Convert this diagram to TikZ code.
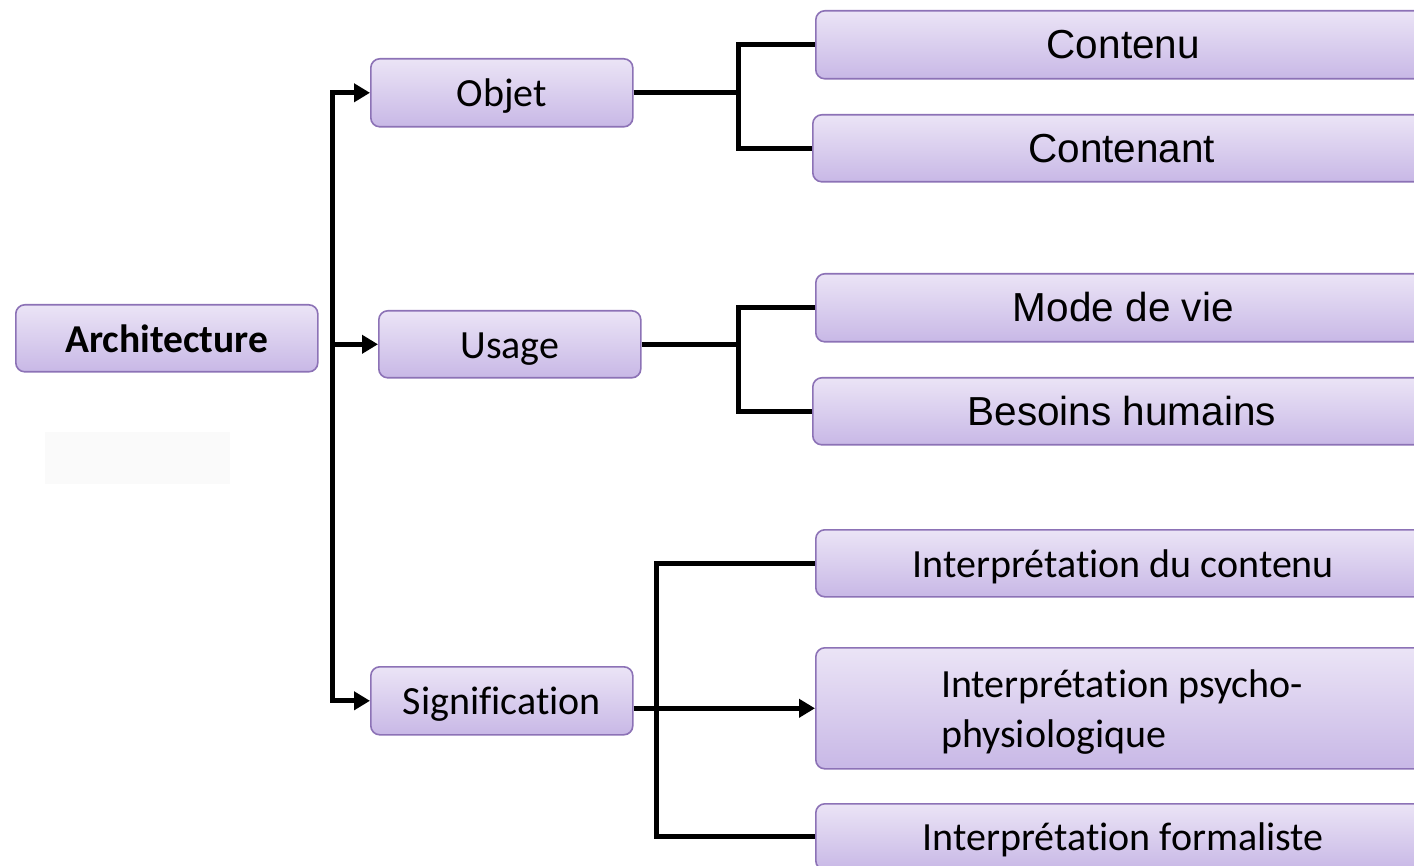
\documentclass[tikz,border=0pt]{standalone}
\usepackage{fontspec}
\setmainfont{Carlito}[Ligatures=NoCommon]
\newfontfamily\arialf{Liberation Sans}
\usetikzlibrary{arrows.meta,calc}
\definecolor{boxtop}{HTML}{EBE4F6}
\definecolor{boxbot}{HTML}{C8B8E6}
\definecolor{boxborder}{HTML}{8C72B6}
\begin{document}
\begin{tikzpicture}[x=1pt,y=-1pt,
  box/.style={draw=boxborder, line width=1.6pt, rounded corners=9pt,
    top color=boxtop, bottom color=boxbot, inner sep=0pt, anchor=north west,
    text height=34pt, text depth=6pt,
    font=\fontsize{40}{48}\selectfont},
  abox/.style={box, font=\arialf\fontsize{40.5}{48}\selectfont},
  conn/.style={line width=5pt},
  arr/.style={conn, -{Triangle[length=16pt,width=18pt]}}]
\useasboundingbox (0,0) rectangle (1414,866);
\clip (0,0) rectangle (1414,866);
\fill[black!2] (45,432) rectangle (230,484);
% left column
\node[box, minimum width=302pt, minimum height=67pt, text height=33pt, text depth=5pt, font=\bfseries\fontsize{39.5}{46}\selectfont] (arch) at (15,304) {Architecture};
\node[box, minimum width=262pt, minimum height=68pt] (objet) at (370,58) {Objet};
\node[box, minimum width=262pt, minimum height=67pt] (usage) at (378,310) {Usage};
\node[box, minimum width=262pt, minimum height=68pt] (sig) at (370,666) {Signification};
% right column
\node[abox, minimum width=615pt, minimum height=68pt] (contenu) at (815,10) {Contenu};
\node[abox, minimum width=618pt, minimum height=67pt] (contenant) at (812,114) {Contenant};
\node[abox, minimum width=615pt, minimum height=68pt] (mode) at (815,273) {Mode de vie};
\node[abox, minimum width=618pt, minimum height=67pt] (besoins) at (812,377) {Besoins humains};
\node[box, minimum width=615pt, minimum height=67pt] (idc) at (815,529) {Interprétation du contenu};
\node[box, minimum width=615pt, minimum height=121pt] (psy) at (815,647) {};
\node[anchor=west, align=left, inner sep=0pt, font=\fontsize{40}{50}\selectfont] (psytext) at (941,712) {Interprétation psycho-\\physiologique};
\node[box, minimum width=615pt, minimum height=66pt] (form) at (815,803) {Interprétation formaliste};
% connectors
\coordinate (tx) at (332,0);
\coordinate (bx) at (738,0);
\coordinate (sx) at (656,0);
\draw[conn, line cap=rect] (tx|-objet.west) -- (tx|-sig.west);
\draw[arr] (tx|-objet.west) -- (objet.west);
\draw[arr] (tx|-usage.west) -- (usage.west);
\draw[arr] (tx|-sig.west) -- (sig.west);
\draw[conn] (objet.east) -- (bx|-objet.east);
\draw[conn] (contenu.west) -- (bx|-contenu.west) -- (bx|-contenant.west) -- (contenant.west);
\draw[conn] (usage.east) -- (bx|-usage.east);
\draw[conn] (mode.west) -- (bx|-mode.west) -- (bx|-besoins.west) -- (besoins.west);
\draw[arr] (sig.east|-psy.west) -- (psy.west);
\draw[conn] (idc.west) -- (sx|-idc.west) -- (sx|-form.west) -- (form.west);
\end{tikzpicture}
\end{document}
